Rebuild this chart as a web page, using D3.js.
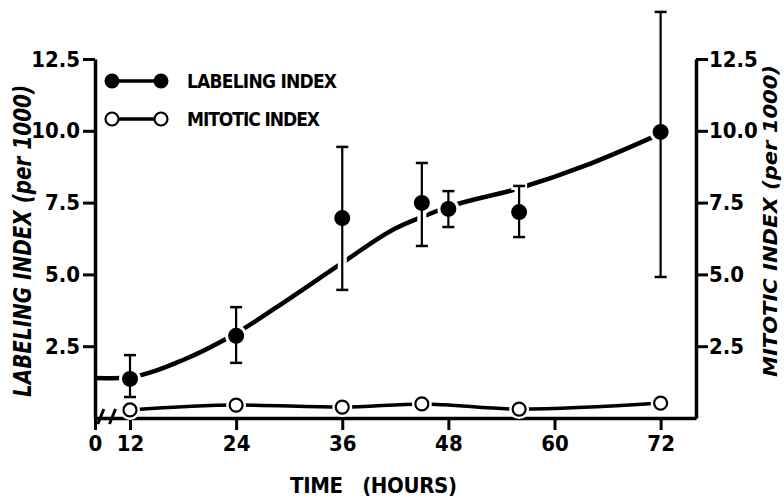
<!DOCTYPE html>
<html>
<head>
<meta charset="utf-8">
<script src="https://cdn.jsdelivr.net/npm/d3@7"></script>
<style>
body { margin: 0; background: #fff; }
text { font-family: "Liberation Sans Narrow", "DejaVu Sans Condensed", "Liberation Sans", sans-serif; font-weight: bold; fill: #000; }
</style>
</head>
<body>
<div id="chart"></div>
<script>
// labeling index points (mean with range)
const hours = [12, 24, 36, 45, 48, 56, 72];
const labeling = [1.36, 2.86, 6.96, 7.49, 7.28, 7.17, 9.96];
const labelingHigh = [2.19, 3.86, 9.44, 8.88, 7.9, 8.08, 14.14];
const labelingLow = [0.73, 1.92, 4.46, 5.99, 6.65, 6.3, 4.91];

// mitotic index points
const mitoticHours = [12, 24, 36, 45, 56, 72];
const mitotic = [0.28, 0.45, 0.38, 0.49, 0.31, 0.52];

// hand fitted curve through the labeling index
const fitHours = [0, 6, 12, 18, 24, 30, 36, 42, 45, 48, 56, 64, 72];
const fitLabeling = [1.39, 1.38, 1.42, 2.02, 2.95, 4.15, 5.4, 6.6, 7.0, 7.35, 8.0, 8.85, 9.9];

const xTicks = [0, 12, 24, 36, 48, 60, 72];
const yTicks = [2.5, 5.0, 7.5, 10.0, 12.5];

const w = 784;
const h = 499;

// broken time axis: 0 sits on the axis, 12..72 evenly spaced
const xScale = d3.scaleLinear([0, 12, 76], [95, 130, 696]);
const yScale = d3.scaleLinear([0, 12.5], [418, 59]);

const svg = d3.select('#chart')
    .append('svg')
    .attr('width', w)
    .attr('height', h);

const axisStyle = g => {
    g.select('.domain').attr('stroke-width', 3.5).attr('stroke', '#000');
    g.selectAll('.tick line').attr('stroke-width', 3).attr('stroke', '#000');
    g.selectAll('.tick text').attr('font-size', 22).attr('fill', '#000');
};

svg.append('g')
    .attr('transform', 'translate(' + xScale(0) + ',0)')
    .call(d3.axisLeft(yScale).tickValues(yTicks).tickFormat(d3.format('.1f')).tickSize(12).tickSizeOuter(0).tickPadding(3))
    .call(axisStyle);

svg.append('g')
    .attr('transform', 'translate(' + xScale(76) + ',0)')
    .call(d3.axisRight(yScale).tickValues(yTicks).tickFormat(d3.format('.1f')).tickSize(12).tickSizeOuter(0).tickPadding(1))
    .call(axisStyle);

svg.append('g')
    .attr('transform', 'translate(0,' + yScale(0) + ')')
    .call(d3.axisBottom(xScale).tickValues(xTicks).tickSize(12).tickSizeOuter(0).tickPadding(5))
    .call(axisStyle);

// axis break marks between 0 and 12
[2, 6].forEach(t => {
    svg.append('line')
        .attr('x1', xScale(t) - 3).attr('y1', yScale(0) + 6)
        .attr('x2', xScale(t) + 3).attr('y2', yScale(0) - 9)
        .attr('stroke', '#000').attr('stroke-width', 3);
});

// curves
const line = d3.line()
    .x(d => xScale(d[0]))
    .y(d => yScale(d[1]))
    .curve(d3.curveMonotoneX);

svg.append('path')
    .attr('d', line(d3.zip(fitHours, fitLabeling)))
    .attr('fill', 'none')
    .attr('stroke', '#000')
    .attr('stroke-width', 4.5);

svg.append('path')
    .attr('d', line(d3.zip(mitoticHours, mitotic)))
    .attr('fill', 'none')
    .attr('stroke', '#000')
    .attr('stroke-width', 3.5);

// white halos give the gaps where the curve meets a point
const capW = 6;
hours.forEach((t, i) => {
    const x = xScale(t);
    svg.append('line')
        .attr('x1', x).attr('x2', x)
        .attr('y1', yScale(labelingHigh[i])).attr('y2', yScale(labelingLow[i]))
        .attr('stroke', '#fff').attr('stroke-width', 9);
    [labelingHigh[i], labelingLow[i]].forEach(v => {
        svg.append('line')
            .attr('x1', x - capW - 2).attr('x2', x + capW + 2)
            .attr('y1', yScale(v)).attr('y2', yScale(v))
            .attr('stroke', '#fff').attr('stroke-width', 8);
    });
    svg.append('circle')
        .attr('cx', x).attr('cy', yScale(labeling[i]))
        .attr('r', 11).attr('fill', '#fff');
});
mitoticHours.forEach((t, i) => {
    svg.append('circle')
        .attr('cx', xScale(t)).attr('cy', yScale(mitotic[i]))
        .attr('r', 10).attr('fill', '#fff');
});

// error bars and points
hours.forEach((t, i) => {
    const x = xScale(t);
    svg.append('line')
        .attr('x1', x).attr('x2', x)
        .attr('y1', yScale(labelingHigh[i])).attr('y2', yScale(labelingLow[i]))
        .attr('stroke', '#000').attr('stroke-width', 2.2);
    [labelingHigh[i], labelingLow[i]].forEach(v => {
        svg.append('line')
            .attr('x1', x - capW).attr('x2', x + capW)
            .attr('y1', yScale(v)).attr('y2', yScale(v))
            .attr('stroke', '#000').attr('stroke-width', 2.5);
    });
    svg.append('circle')
        .attr('cx', x).attr('cy', yScale(labeling[i]))
        .attr('r', 8).attr('fill', '#000');
});

svg.selectAll('.mit')
    .data(d3.zip(mitoticHours, mitotic))
    .join('circle')
    .attr('class', 'mit')
    .attr('cx', d => xScale(d[0]))
    .attr('cy', d => yScale(d[1]))
    .attr('r', 6.5)
    .attr('fill', '#fff')
    .attr('stroke', '#000')
    .attr('stroke-width', 2.2);

// legend
const legend = [
    { name: 'LABELING INDEX', filled: true, y: 81, len: 150 },
    { name: 'MITOTIC INDEX', filled: false, y: 119, len: 133 }
];
legend.forEach(l => {
    svg.append('line')
        .attr('x1', 112).attr('x2', 161)
        .attr('y1', l.y).attr('y2', l.y)
        .attr('stroke', '#000').attr('stroke-width', 3.5);
    [112, 161].forEach(cx => {
        svg.append('circle')
            .attr('cx', cx).attr('cy', l.y)
            .attr('r', l.filled ? 7.5 : 6.5)
            .attr('fill', l.filled ? '#000' : '#fff')
            .attr('stroke', '#000')
            .attr('stroke-width', l.filled ? 0 : 2.2);
    });
    svg.append('text')
        .text(l.name)
        .attr('x', 187).attr('y', l.y + 7)
        .attr('font-size', 19)
        .attr('textLength', l.len)
        .attr('lengthAdjust', 'spacing');
});

// axis titles
svg.append('text')
    .text('LABELING INDEX (per 1000)')
    .attr('transform', 'translate(31,241) rotate(-90)')
    .attr('text-anchor', 'middle')
    .attr('font-size', 24)
    .attr('font-style', 'italic')
    .attr('textLength', 312)
    .attr('lengthAdjust', 'spacingAndGlyphs');

svg.append('text')
    .text('MITOTIC INDEX (per 1000)')
    .attr('transform', 'translate(777,221) rotate(-90)')
    .attr('text-anchor', 'middle')
    .attr('font-size', 20)
    .attr('font-style', 'italic')
    .attr('textLength', 312)
    .attr('lengthAdjust', 'spacingAndGlyphs');

svg.append('text')
    .text('TIME   (HOURS)')
    .style('white-space', 'pre')
    .attr('x', 290).attr('y', 493)
    .attr('font-size', 22)
    .attr('textLength', 167)
    .attr('lengthAdjust', 'spacing');
</script>
</body>
</html>
